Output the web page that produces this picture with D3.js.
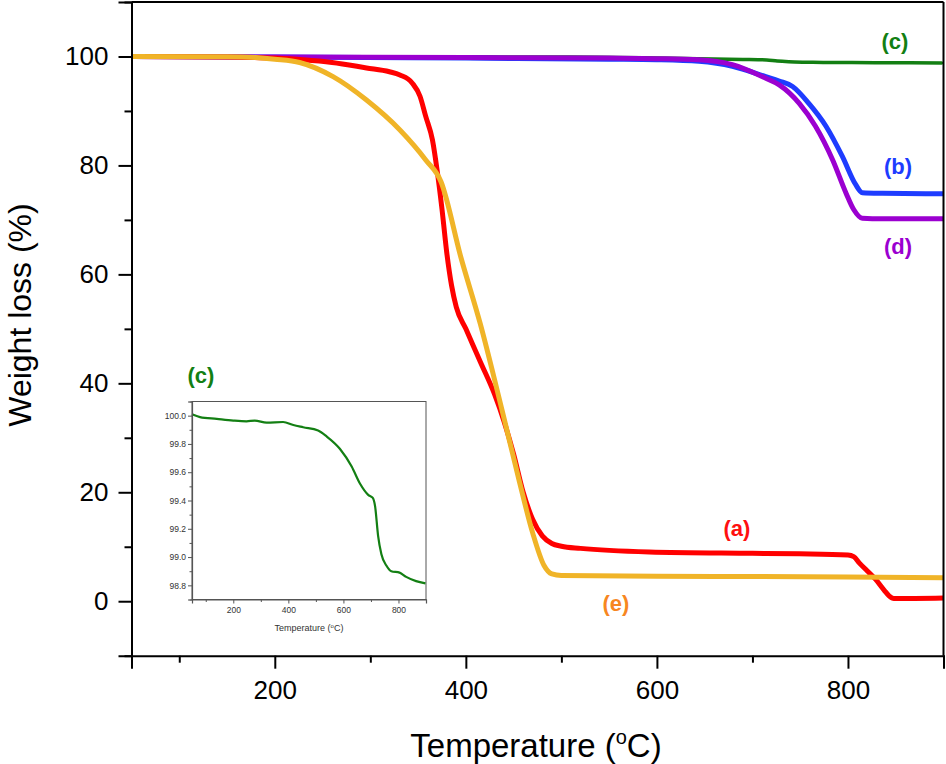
<!DOCTYPE html>
<html><head><meta charset="utf-8">
<script src="https://cdn.jsdelivr.net/npm/d3@7"></script>
<style>html,body{margin:0;padding:0;background:#fff;}svg{display:block;font-family:"Liberation Sans",Arial,sans-serif;}</style>
</head><body><div id="chart"></div>
<script>
// ---- data ----
const xTicksMajor = [200, 400, 600, 800];
const yTicksMajor = [0, 20, 40, 60, 80, 100];
const insetXTicks = [200, 400, 600, 800];
const insetYTicks = [98.8, 99.0, 99.2, 99.4, 99.6, 99.8, 100.0];

const aT = [50, 150, 200, 230, 260, 296, 320, 331, 344, 352, 358, 365, 370, 375, 380, 385, 390, 400, 415, 430, 440, 450, 460, 470, 480, 490, 500, 520, 592, 700, 749, 800, 806, 812, 820, 829, 838, 843, 848, 900];
const aW = [100, 99.9, 99.7, 99.4, 98.9, 97.9, 97.2, 96.6, 95.1, 92.7, 89, 84.7, 79, 72, 64, 58, 54, 50, 44, 38, 33, 27, 20, 15, 12, 10.6, 10.1, 9.7, 9.05, 8.8, 8.7, 8.5, 8.2, 7.0, 5.6, 4.0, 2.0, 1.0, 0.5, 0.6];

const bT = [50, 200, 400, 550, 600, 644, 679, 714, 728, 742, 759, 777, 794, 808, 815, 836, 900];
const bW = [100, 99.9, 99.7, 99.5, 99.4, 99.1, 98.2, 96.3, 95.5, 94.5, 91.4, 87.2, 81.7, 76.5, 75.0, 74.9, 74.8];

const cT = [50, 79, 140, 200, 248, 278, 321, 381, 418, 454, 508, 539, 587, 630, 660, 690, 706, 715, 726, 738, 756, 774, 804, 828, 864, 898];
const cW = [100.01, 99.99, 99.977, 99.965, 99.96, 99.965, 99.951, 99.955, 99.934, 99.918, 99.895, 99.853, 99.766, 99.64, 99.52, 99.44, 99.42, 99.36, 99.15, 99.02, 98.94, 98.90, 98.89, 98.86, 98.83, 98.814];

const dT = [50, 200, 400, 550, 600, 644, 679, 714, 728, 749, 766, 784, 798, 806, 815, 836, 900];
const dW = [100, 99.9, 99.8, 99.7, 99.6, 99.4, 98.5, 96.0, 94.8, 91.4, 87.2, 81.0, 74.9, 71.9, 70.3, 70.2, 70.2];

const eT = [50, 150, 180, 200, 226, 261, 296, 331, 358, 374, 395, 415, 438, 456, 470, 482, 490, 500, 600, 800, 900];
const eW = [100, 99.95, 99.8, 99.5, 98.9, 96.3, 92.0, 86.5, 81, 77, 63, 51, 35, 22, 12.5, 6.5, 5.0, 4.7, 4.6, 4.45, 4.3];

const seriesLabels = ["(a)", "(b)", "(c)", "(d)", "(e)"];

// ---- drawing ----
const W = 946, H = 764;
const svg = d3.select("#chart").append("svg").attr("width", W).attr("height", H);

const x = d3.scaleLinear().domain([50, 900]).range([131.5, 943.5]);
const y = d3.scaleLinear().domain([-10, 110]).range([655.7, 2]);

const zip = (T, V) => T.map((t, i) => ({t, v: V[i]}));
const line = d3.line().x(d => x(d.t)).y(d => y(d.v)).curve(d3.curveMonotoneX);

svg.append("defs").append("clipPath").attr("id", "clipMain")
  .append("rect").attr("x", x(50)).attr("y", y(110)).attr("width", x(900) - x(50)).attr("height", y(-10) - y(110));

const plot = svg.append("g").attr("clip-path", "url(#clipMain)");
const series = [
  {T: cT, V: cW, color: "#137f13", w: 3.5},
  {T: bT, V: bW, color: "#1e3cff", w: 5},
  {T: dT, V: dW, color: "#9b00d0", w: 5},
  {T: aT, V: aW, color: "#ff0000", w: 5},
  {T: eT, V: eW, color: "#f0b428", w: 5}
];
series.forEach(s => {
  plot.append("path").datum(zip(s.T, s.V)).attr("d", line)
    .attr("fill", "none").attr("stroke", s.color).attr("stroke-width", s.w)
    .attr("stroke-linejoin", "round").attr("stroke-linecap", "round");
});

// frame
const frame = svg.append("g").attr("stroke", "#000").attr("stroke-width", 2);
frame.append("line").attr("x1", x(50)).attr("x2", x(900)).attr("y1", y(110)).attr("y2", y(110));
frame.append("line").attr("x1", x(900)).attr("x2", x(900)).attr("y1", y(110)).attr("y2", y(-10));

// axes
const xAxis = svg.append("g").attr("transform", `translate(0,${y(-10)})`)
  .call(d3.axisBottom(x).tickValues(xTicksMajor).tickSize(13).tickPadding(12).tickFormat(d3.format("d")));
const xMinor = svg.append("g").attr("transform", `translate(0,${y(-10)})`)
  .call(d3.axisBottom(x).tickValues(d3.range(100, 901, 200)).tickSize(7).tickFormat(""));
const yAxis = svg.append("g").attr("transform", `translate(${x(50)},0)`)
  .call(d3.axisLeft(y).tickValues(yTicksMajor).tickSize(13).tickPadding(10).tickFormat(d3.format("d")));
const yMinor = svg.append("g").attr("transform", `translate(${x(50)},0)`)
  .call(d3.axisLeft(y).tickValues(d3.range(-10, 111, 20)).tickSize(7).tickFormat(""));
[xAxis, xMinor, yAxis, yMinor].forEach(g => {
  g.select(".domain").attr("stroke", "#000").attr("stroke-width", 2);
  g.selectAll(".tick line").attr("stroke", "#000").attr("stroke-width", 2);
  g.selectAll(".tick text").attr("fill", "#000").attr("font-size", 26)
    .attr("font-family", "'Liberation Sans', Arial, sans-serif");
});
xMinor.select(".domain").remove();
yMinor.select(".domain").remove();

// axis titles
svg.append("text").attr("x", 536).attr("y", 757).attr("text-anchor", "middle")
  .attr("font-size", 33).attr("fill", "#000")
  .call(t => { t.append("tspan").text("Temperature (");
    t.append("tspan").attr("font-size", 20).attr("dy", -13).text("o");
    t.append("tspan").attr("dy", 13).text("C)"); });
svg.append("text").attr("transform", "translate(31,315) rotate(-90)").attr("text-anchor", "middle")
  .attr("font-size", 32).attr("fill", "#000").text("Weight loss (%)");

// series labels
const labelPos = [
  {t: seriesLabels[0], x: 737, y: 536, c: "#ff1010"},
  {t: seriesLabels[1], x: 898, y: 174, c: "#1e3cff"},
  {t: seriesLabels[2], x: 895, y: 49, c: "#137f13"},
  {t: seriesLabels[3], x: 898, y: 254, c: "#9b00d0"},
  {t: seriesLabels[4], x: 616, y: 611, c: "#f7871f"}
];
labelPos.forEach(l => svg.append("text").attr("x", l.x).attr("y", l.y).attr("text-anchor", "middle")
  .attr("font-size", 22).attr("font-weight", "bold").attr("fill", l.c).text(l.t));

// ---- inset ----
const ix = d3.scaleLinear().domain([50, 900]).range([192, 426]);
const iy = d3.scaleLinear().domain([98.7, 100.1]).range([599.5, 401.5]);
const inset = svg.append("g");
inset.append("rect").attr("x", ix(50)).attr("y", iy(100.1)).attr("width", ix(900) - ix(50)).attr("height", iy(98.7) - iy(100.1))
  .attr("fill", "#fff").attr("stroke", "#555").attr("stroke-width", 1);
const iline = d3.line().x(d => ix(d.t)).y(d => iy(d.v)).curve(d3.curveMonotoneX);
inset.append("path").datum(zip(cT, cW)).attr("d", iline).attr("fill", "none")
  .attr("stroke", "#137f13").attr("stroke-width", 2.2).attr("stroke-linejoin", "round");
const ixA = inset.append("g").attr("transform", `translate(0,${iy(98.7)})`)
  .call(d3.axisBottom(ix).tickValues(insetXTicks).tickSize(4).tickPadding(3).tickFormat(d3.format("d")));
const ixM = inset.append("g").attr("transform", `translate(0,${iy(98.7)})`)
  .call(d3.axisBottom(ix).tickValues(d3.range(100, 901, 200)).tickSize(2.5).tickFormat(""));
const iyA = inset.append("g").attr("transform", `translate(${ix(50)},0)`)
  .call(d3.axisLeft(iy).tickValues(insetYTicks).tickSize(4).tickPadding(2).tickFormat(d3.format(".1f")));
const iyM = inset.append("g").attr("transform", `translate(${ix(50)},0)`)
  .call(d3.axisLeft(iy).tickValues([98.7, 98.9, 99.1, 99.3, 99.5, 99.7, 99.9, 100.1]).tickSize(2.5).tickFormat(""));
[ixA, ixM, iyA, iyM].forEach(g => {
  g.select(".domain").attr("stroke", "#555").attr("stroke-width", 1.2);
  g.selectAll(".tick line").attr("stroke", "#555").attr("stroke-width", 1);
  g.selectAll(".tick text").attr("fill", "#333").attr("font-size", 8.5)
    .attr("font-family", "'Liberation Sans', Arial, sans-serif");
});
ixM.select(".domain").remove(); iyM.select(".domain").remove();
inset.append("text").attr("x", 309).attr("y", 631).attr("text-anchor", "middle")
  .attr("font-size", 9).attr("fill", "#333")
  .call(t => { t.append("tspan").text("Temperature (");
    t.append("tspan").attr("font-size", 6).attr("dy", -3).text("o");
    t.append("tspan").attr("dy", 3).text("C)"); });
inset.append("text").attr("x", 201).attr("y", 383).attr("text-anchor", "middle")
  .attr("font-size", 22).attr("font-weight", "bold").attr("fill", "#137f13").text("(c)");
</script></body></html>
